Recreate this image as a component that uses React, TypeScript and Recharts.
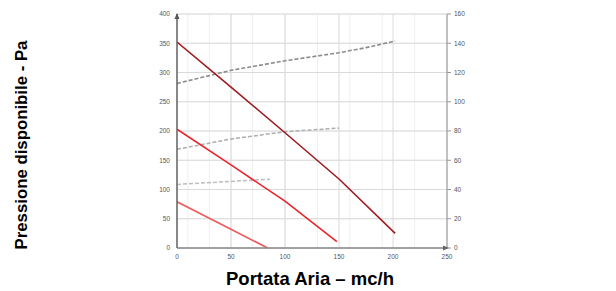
import React from "react";
import { LineChart, Line, XAxis, YAxis, CartesianGrid } from "recharts";

// Pressure curves (left axis, Pa) vs air flow (mc/h)
const pressureHigh = [
  { x: 0, y: 352 },
  { x: 50, y: 275 },
  { x: 100, y: 197 },
  { x: 150, y: 118 },
  { x: 202, y: 25 },
];
const pressureMid = [
  { x: 0, y: 203 },
  { x: 50, y: 142 },
  { x: 100, y: 80 },
  { x: 148, y: 11 },
];
const pressureLow = [
  { x: 0, y: 79 },
  { x: 50, y: 32 },
  { x: 84, y: 0 },
];
// Dashed curves (right axis)
const powerHigh = [
  { x: 0, y: 112.5 },
  { x: 50, y: 121.5 },
  { x: 100, y: 128 },
  { x: 150, y: 133.5 },
  { x: 175, y: 137 },
  { x: 202, y: 141.5 },
];
const powerMid = [
  { x: 0, y: 67.5 },
  { x: 50, y: 74.5 },
  { x: 100, y: 79.5 },
  { x: 150, y: 82 },
];
const powerLow = [
  { x: 0, y: 43.5 },
  { x: 86, y: 47 },
];

const xTicks = [0, 50, 100, 150, 200, 250];
const leftTicks = [0, 50, 100, 150, 200, 250, 300, 350, 400];
const rightTicks = [0, 20, 40, 60, 80, 100, 120, 140, 160];
const xMinorGrid = Array.from({ length: 26 }, (_, i) => i * 10);
const yMinorGrid = Array.from({ length: 25 }, (_, i) => (i * 50) / 3);
const xMajorGrid = [0, 50, 100, 150, 200, 250];
const yMajorGrid = [0, 50, 100, 150, 200, 250, 300, 350, 400];

const W = 616;
const H = 291;
const PL = 177;
const PR = 447;
const PT = 14;
const PB = 248;

const tickStyle = { fontSize: 6.5, fill: "#555", fontFamily: "Liberation Sans, Arial, sans-serif" };

export default function App() {
  return (
    <div style={{ position: "absolute", left: 0, top: 0, width: W, height: H, background: "#fff" }}>
      <LineChart
        width={W}
        height={H}
        margin={{ top: PT, right: W - PR - 30, bottom: H - PB - 20, left: PL - 30 }}
      >
        <CartesianGrid
          xAxisId={0}
          yAxisId="left"
          stroke="#efefef"
          strokeWidth={1}
          verticalValues={xMinorGrid}
          horizontalValues={yMinorGrid}
        />
        <CartesianGrid
          xAxisId={0}
          yAxisId="left"
          stroke="#dadada"
          strokeWidth={1}
          verticalValues={xMajorGrid}
          horizontalValues={yMajorGrid}
        />
        <XAxis
          xAxisId={0}
          type="number"
          dataKey="x"
          domain={[0, 250]}
          ticks={xTicks}
          height={20}
          tickLine={false}
          tickSize={4}
          tickMargin={2}
          stroke="#888"
          axisLine={{ stroke: "#888", strokeWidth: 1.5 }}
          tick={tickStyle}
          allowDataOverflow
        />
        <YAxis
          yAxisId="left"
          orientation="left"
          type="number"
          domain={[0, 400]}
          ticks={leftTicks}
          width={30}
          tickLine={false}
          tickSize={5}
          tickMargin={2}
          stroke="#666"
          axisLine={{ stroke: "#666", strokeWidth: 1.5 }}
          tick={tickStyle}
        />
        <YAxis
          yAxisId="right"
          orientation="right"
          type="number"
          domain={[0, 160]}
          ticks={rightTicks}
          width={30}
          tickSize={4}
          tickMargin={3}
          stroke="#999"
          tickLine={{ stroke: "#999" }}
          axisLine={{ stroke: "#999", strokeWidth: 1 }}
          tick={tickStyle}
        />
        <Line
          data={powerHigh}
          dataKey="y"
          yAxisId="right"
          stroke="#8c8c8c"
          strokeWidth={1.6}
          strokeDasharray="4 2"
          dot={false}
          isAnimationActive={false}
        />
        <Line
          data={powerMid}
          dataKey="y"
          yAxisId="right"
          stroke="#adadad"
          strokeWidth={1.5}
          strokeDasharray="4 2"
          dot={false}
          isAnimationActive={false}
        />
        <Line
          data={powerLow}
          dataKey="y"
          yAxisId="right"
          stroke="#bdbdbd"
          strokeWidth={1.5}
          strokeDasharray="4 2"
          dot={false}
          isAnimationActive={false}
        />
        <Line
          data={pressureHigh}
          dataKey="y"
          yAxisId="left"
          stroke="#9e1c1f"
          strokeWidth={1.6}
          dot={false}
          isAnimationActive={false}
        />
        <Line
          data={pressureMid}
          dataKey="y"
          yAxisId="left"
          stroke="#e8242a"
          strokeWidth={1.6}
          dot={false}
          isAnimationActive={false}
        />
        <Line
          data={pressureLow}
          dataKey="y"
          yAxisId="left"
          stroke="#ef5a5e"
          strokeWidth={1.6}
          dot={false}
          isAnimationActive={false}
        />
      </LineChart>
      <svg
        width={W}
        height={H}
        style={{ position: "absolute", left: 0, top: 0, pointerEvents: "none" }}
      >
        <polygon points={`${PL - 2.5},${PT + 5} ${PL + 2.5},${PT + 5} ${PL},${PT - 1}`} fill="#555" />
        <polygon points={`${PR - 4},${PB - 2.5} ${PR - 4},${PB + 2.5} ${PR + 2},${PB}`} fill="#666" />
      </svg>
      <div
        style={{
          position: "absolute",
          left: 22,
          top: 145,
          transform: "translate(-50%, -50%) rotate(-90deg)",
          whiteSpace: "nowrap",
          fontFamily: "Liberation Sans, Arial, sans-serif",
          fontWeight: "bold",
          fontSize: 16.8,
          color: "#000",
        }}
      >
        Pressione disponibile - Pa
      </div>
      <div
        style={{
          position: "absolute",
          left: 310,
          top: 279,
          transform: "translate(-50%, -50%)",
          whiteSpace: "nowrap",
          fontFamily: "Liberation Sans, Arial, sans-serif",
          fontWeight: "bold",
          fontSize: 18.5,
          color: "#000",
        }}
      >
        Portata Aria – mc/h
      </div>
    </div>
  );
}
